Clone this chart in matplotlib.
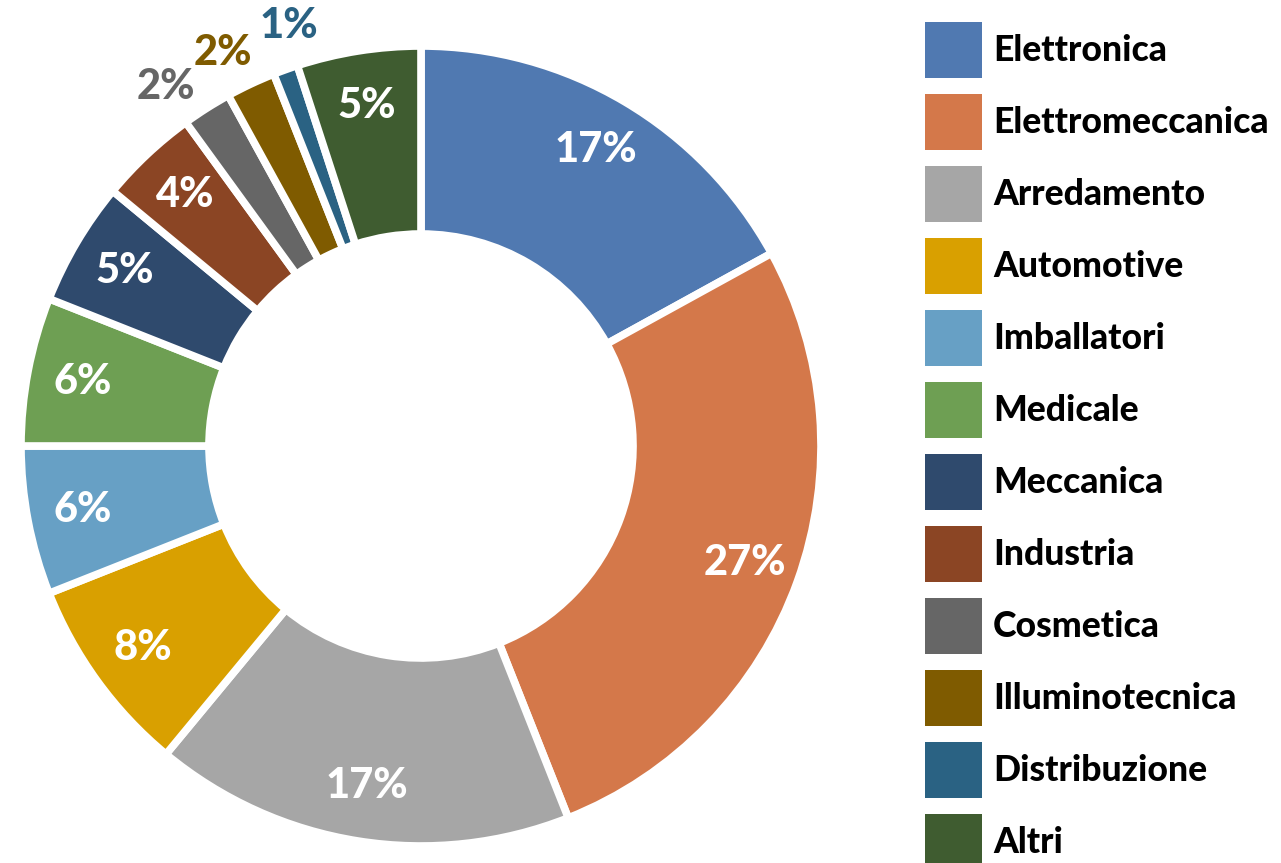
import matplotlib.pyplot as plt
from matplotlib.patches import Patch
import numpy as np

# Settori e quote percentuali
settori = ['Elettronica', 'Elettromeccanica', 'Arredamento', 'Automotive',
           'Imballatori', 'Medicale', 'Meccanica', 'Industria', 'Cosmetica',
           'Illuminotecnica', 'Distribuzione', 'Altri']
quote = [17, 27, 17, 8, 6, 6, 5, 4, 2, 2, 1, 5]
colori = ['#5079B1', '#D4784A', '#A6A6A6', '#D9A000', '#67A0C5', '#6E9F53',
          '#2F4A6D', '#8B4524', '#666666', '#7F5B00', '#2A6283', '#3F5C30']
# etichette fuori dall'anello per le fette piccole (con piccolo scarto angolare)
esterne = {'Cosmetica': 3.0, 'Illuminotecnica': 1.5, 'Distribuzione': -2.3}

plt.rcParams['font.family'] = ['Lato', 'DejaVu Sans']

fig = plt.figure(figsize=(12.81, 8.63), dpi=100)
ax = fig.add_axes([(421 - 400) / 1281, (863 - 446 - 400) / 863, 800 / 1281, 800 / 863])

wedges, _ = ax.pie(quote, colors=colori, startangle=90, counterclock=False,
                   radius=1.0, wedgeprops=dict(width=0.47, edgecolor='white', linewidth=5.5))
ax.set_xlim(-1, 1)
ax.set_ylim(-1, 1)
ax.set_aspect('equal')

# Etichette percentuali
for w, q, s, c in zip(wedges, quote, settori, colori):
    if s in esterne:
        ang = np.deg2rad((w.theta1 + w.theta2) / 2 + esterne[s])
        r, col = 1.10, c
    else:
        ang = np.deg2rad((w.theta1 + w.theta2) / 2)
        r, col = 0.86, 'white'
    ax.text(r * np.cos(ang), r * np.sin(ang), f'{q}%', ha='center', va='center',
            color=col, fontsize=30, fontweight='black', clip_on=False)

# Legenda
fs = 25.6
px = fs * 100 / 72  # dimensione del font in pixel
maniglie = [Patch(facecolor=c, edgecolor='none') for c in colori]
fig.legend(maniglie, settori, loc='upper left', bbox_to_anchor=(925 / 1281, 1 - 22 / 863),
           frameon=False, prop={'weight': 'black', 'size': fs},
           handlelength=57 / px, handleheight=(56 / px - 0.245) / 0.65,
           labelspacing=16 / px, handletextpad=11 / px,
           borderpad=0, borderaxespad=0)

plt.savefig('out.png', dpi=100, facecolor='white')
